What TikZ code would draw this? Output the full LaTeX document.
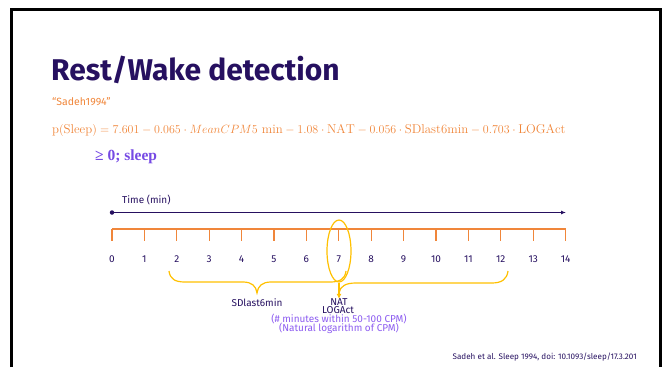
\documentclass[tikz,border=0pt]{standalone}
\usepackage{amsmath, amssymb}
\usepackage{fontspec}
\setsansfont{Fira Sans}
\newfontfamily\formulafont{Liberation Serif}
\usepackage{tikz}
\usetikzlibrary{shapes.geometric,arrows.meta}
\definecolor{deepviolet}{RGB}{38,16,96}
\definecolor{tangerine}{RGB}{240,134,58}
\definecolor{gold}{RGB}{255,192,0}
\definecolor{lilac}{RGB}{140,92,240}
\definecolor{boldviolet}{RGB}{118,74,228}

\begin{document}
\begin{tikzpicture}[x=1pt,y=-1pt,
  lbl/.style={font=\sffamily\fontsize{10}{12}\selectfont,text=deepviolet,inner sep=0},
  note/.style={font=\sffamily\fontsize{10}{11}\selectfont,text=lilac,inner sep=0},
  bracepath/.style={draw=gold,line width=1.2pt}]
  \useasboundingbox (0,0) rectangle (667,367);
  \draw[line width=2.5pt] (11.5,367) -- (11.5,9.5) -- (660.5,9.5) -- (660.5,367);

  % heading and formula
  \node[anchor=base west,inner sep=0,text=deepviolet,font=\sffamily\bfseries\fontsize{30}{32}\selectfont] (title) at (51,80) {Rest/Wake detection};
  \node[anchor=base west,inner sep=0,text=tangerine,font=\sffamily\fontsize{10.5}{12}\selectfont] (name) at (52,105) {“Sadeh1994”};
  \node[anchor=base west,inner sep=0,text=tangerine,font=\fontsize{12.8}{15}\selectfont] (psleep) at (52,133)
    {$\mathrm{p(Sleep)} = 7.601 - 0.065\cdot MeanCPM5\ \mathrm{min} - 1.08\cdot\mathrm{NAT} - 0.056\cdot\mathrm{SDlast6min} - 0.703\cdot\mathrm{LOGAct}$};
  \node[anchor=base west,inner sep=0,text=boldviolet,font=\formulafont\bfseries\fontsize{15.5}{17}\selectfont] (thr) at (95,160) {≥ 0; sleep};

  % time axis
  \node[circle,fill=deepviolet,inner sep=0,minimum size=4.5] (origin) at (112,212.5) {};
  \coordinate (tend) at (566,212.5);
  \draw[deepviolet,line width=1.3pt,-{Latex[length=5pt,width=4pt]}] (origin) -- (tend);
  \node[lbl,anchor=west] (tlabel) at (122,200) {Time (min)};

  % minute ruler
  \draw[tangerine,line width=1.3pt] (112,229) -- (565.6,229);
  \foreach \i in {0,...,14} {
    \draw[tangerine,line width=1.3pt] (112+32.4*\i,229) -- ++(0,12);
    \node[lbl] (m\i) at (112+32.4*\i,259) {\i};
  }

  % windows
  \node[ellipse,draw=gold,line width=1.2pt,minimum width=24,minimum height=62,inner sep=0] (win) at (339,251) {};
  \draw[bracepath] (169,271) .. controls (170,279) and (175,282) .. (185,282) -- (243,282)
    .. controls (252,282) and (256,286) .. (257,293) .. controls (258,286) and (262,282) .. (271,282)
    -- (330,282) .. controls (340,282) and (345,279) .. (346,271);
  \draw[bracepath] (508,271) .. controls (507,279) and (502,283) .. (492,283) -- (356,283)
    .. controls (346,283) and (340,286) .. (339,293);

  \node[lbl] (sdl) at (257,303) {SDlast6min};
  \node[lbl] (nat) at (339,302.5) {NAT};
  \node[lbl] (logact) at (338,310.5) {LOGAct};
  \draw[gold,line width=1.2pt,-{Latex[length=5pt,width=5pt]}] (win.south) -- (nat.north);
  \node[note] (natnote) at (339,319) {(\# minutes within 50-100 CPM)};
  \node[note] (lognote) at (339,328.5) {(Natural logarithm of CPM)};

  \node[anchor=base east,inner sep=0,text=deepviolet,font=\sffamily\fontsize{8.1}{10}\selectfont] (cite) at (637,359) {Sadeh et al. Sleep 1994, doi: 10.1093/sleep/17.3.201};
\end{tikzpicture}
\end{document}
